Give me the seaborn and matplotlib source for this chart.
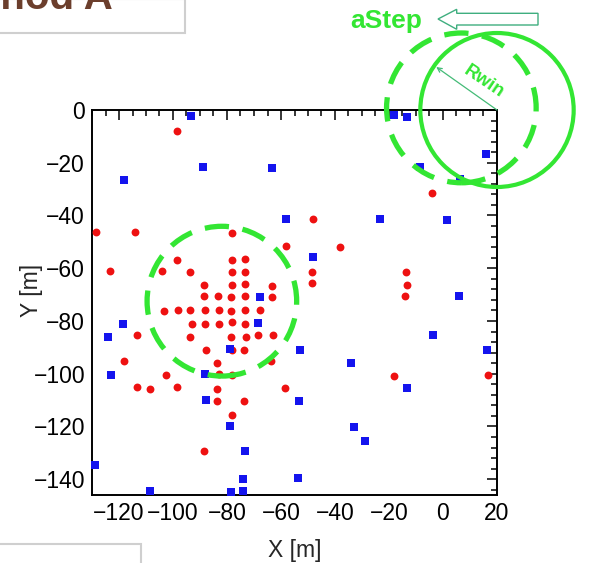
import matplotlib
matplotlib.use("Agg")
import matplotlib.pyplot as plt
import pandas as pd
import seaborn as sns
from matplotlib.patches import Ellipse, Polygon, Rectangle
from matplotlib.ticker import MultipleLocator

# Hit positions [m]: red circles and blue squares
red_x = [-98.5, -128.4, -113.9, -78.0, -58.3, -123.2, -98.5, -104.0, -93.7,
         -78.3, -73.4, -78.3, -73.2, -88.7, -78.1, -73.2, -63.2,
         -88.4, -83.5, -78.6, -73.4, -63.2,
         -103.2, -98.0, -93.7, -88.1, -83.1, -78.5, -73.3, -67.9,
         -93.1, -88.1, -83.1, -78.1, -73.4,
         -113.3, -93.7, -78.6, -72.8, -68.5, -63.1,
         -87.8, -78.1, -73.7, -118.2, -83.8, -63.7,
         -102.6, -82.9, -78.3, -113.3, -108.7, -98.5, -83.8, -58.6,
         -83.8, -73.7, -78.3, -88.7,
         -3.9, -48.1, -38.3, -48.7, -48.7, -13.7, -13.4, -13.9, -18.0, 16.7]
red_y = [-8.0, -46.3, -46.3, -46.7, -51.4, -60.9, -56.8, -61.0, -61.6,
         -56.8, -56.4, -61.4, -61.4, -66.3, -66.3, -65.9, -66.6,
         -70.7, -70.7, -71.0, -70.7, -71.0,
         -76.3, -75.8, -75.8, -76.0, -76.0, -76.3, -76.0, -76.0,
         -81.0, -81.2, -81.3, -80.5, -81.0,
         -85.5, -86.0, -86.0, -86.2, -85.5, -85.5,
         -91.0, -91.2, -91.0, -95.3, -96.0, -95.3,
         -100.4, -100.1, -100.6, -105.2, -105.7, -105.0, -105.9, -105.3,
         -110.5, -110.5, -115.5, -129.5,
         -31.6, -41.4, -51.8, -61.6, -65.6, -61.4, -66.3, -70.7, -101.0, -100.6]

blue_x = [-93.4, -88.8, -63.2, -118.3, -58.2, -67.9, -118.6, -68.7, -123.9,
          -78.8, -122.9, -88.2, -87.8, -78.8, -73.4, -129.0, -73.9, -108.7,
          -78.6, -73.9, -18.1, -13.4, 15.9, -8.5, 6.3, -23.5, 1.6, -48.1,
          5.9, -3.8, -53.0, 16.4, -34.2, -13.2, -53.4, -33.1, -28.8, -53.8]
blue_y = [-2.3, -21.5, -22.1, -26.5, -41.3, -70.8, -81.0, -80.8, -86.1,
          -90.5, -100.4, -100.1, -109.8, -120.0, -129.5, -134.8, -139.8, -144.3,
          -144.8, -144.6, -1.9, -2.5, -16.7, -21.5, -26.1, -41.4, -41.9, -55.6,
          -70.7, -85.4, -90.9, -90.9, -96.0, -105.5, -110.3, -120.2, -125.4, -139.4]

x_ticks = [-120, -100, -80, -60, -40, -20, 0, 20]
y_ticks = [0, -20, -40, -60, -80, -100, -120, -140]

sns.set_style("white")
plt.rcParams["font.family"] = ["Liberation Sans", "DejaVu Sans"]

W, H = 590, 563


def fx(px):
    return px / W


def fy(py):
    return 1 - py / H


fig = plt.figure(figsize=(W / 100, H / 100), dpi=100)
ax = fig.add_axes([fx(92), fy(495), 405 / W, 385 / H])

df_red = pd.DataFrame({"x": red_x, "y": red_y})
df_blue = pd.DataFrame({"x": blue_x, "y": blue_y})
sns.scatterplot(data=df_red, x="x", y="y", marker="o", s=32, color="#ee1111",
                linewidth=0, ax=ax, clip_on=False, zorder=3)
sns.scatterplot(data=df_blue, x="x", y="y", marker="s", s=33, color="#1414ee",
                linewidth=0, ax=ax, clip_on=False, zorder=3)

ax.set_xlim(-130, 20)
ax.set_ylim(-146, 0)
ax.set_xticks(x_ticks)
ax.set_yticks(y_ticks)
ax.xaxis.set_minor_locator(MultipleLocator(5))
ax.yaxis.set_minor_locator(MultipleLocator(4))
ax.tick_params(which="both", direction="in", top=True, right=True,
               width=1.1, color="black", labelsize=16.5, labelcolor="black")
ax.tick_params(which="major", length=7.5)
ax.tick_params(which="minor", length=4)
ax.tick_params(axis="x", pad=5)
ax.tick_params(axis="y", pad=5)
for sp in ax.spines.values():
    sp.set_linewidth(1.4)
    sp.set_color("black")

ax.set_xlabel("X [m]", fontsize=16.5)
ax.set_ylabel("Y [m]", fontsize=16.5)
ax.xaxis.set_label_coords(0.5, -0.114)
ax.yaxis.set_label_coords(-0.122, 0.532)

# Search windows
green = "#33e633"
ax.add_patch(Ellipse((-81.9, -72.5), 2 * 27.7, 2 * 28.4, fill=False, ec=green,
                     lw=3.8, ls=(0, (4.6, 2.6)), clip_on=False, zorder=4))
ax.add_patch(Ellipse((6.8, 0.8), 2 * 27.7, 2 * 28.4, fill=False, ec=green,
                     lw=3.8, ls=(0, (4.6, 2.6)), clip_on=False, zorder=4))
ax.add_patch(Ellipse((20, 0), 2 * 28.4, 2 * 29.2, fill=False, ec=green,
                     lw=3.0, clip_on=False, zorder=4))

ax.annotate("", xy=(-2.5, 16.3), xytext=(20, 0),
            arrowprops=dict(arrowstyle="->", color="#44bb77", lw=0.9,
                            shrinkA=0, shrinkB=0, mutation_scale=8),
            annotation_clip=False, zorder=5)
ax.text(15.1, 10.6, "Rwin", rotation=-34, color=green, fontsize=13.5,
        fontweight="bold", ha="center", va="center", rotation_mode="anchor",
        clip_on=False, zorder=5)

# Step label and hollow arrow
fig.text(fx(350), fy(28), "aStep", fontsize=19, fontweight="bold",
         color=green, ha="left", va="baseline")
arrow_px = [(438, 19), (456.7, 9.3), (456.7, 13.3), (538, 13.3),
            (538, 25), (456.7, 25), (456.7, 29.3)]
fig.add_artist(Polygon([(fx(a), fy(b)) for a, b in arrow_px], closed=True,
                       fill=False, ec="#3fae7f", lw=1.0,
                       transform=fig.transFigure))

# Title box (top) and caption box (bottom)
fig.add_artist(Rectangle((-0.01, fy(33)), fx(185) + 0.01, 0.06,
                         transform=fig.transFigure, fill=False,
                         ec="#cfcfcf", lw=1.5))
fig.text(fx(113), fy(9), "Method A", fontsize=29, fontweight="bold",
         color="#6b3e2c", ha="right", va="baseline")
fig.add_artist(Rectangle((-0.01, -0.05), fx(141) + 0.01, fy(544) + 0.05,
                         transform=fig.transFigure, fill=False,
                         ec="#cfcfcf", lw=1.5))

fig.savefig("out.png", dpi=100)
